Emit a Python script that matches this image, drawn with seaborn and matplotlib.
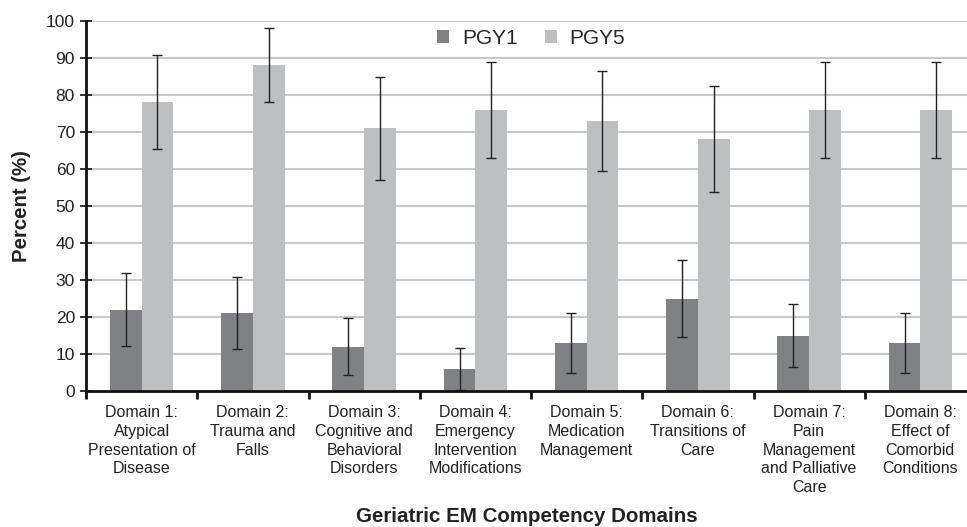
import matplotlib
matplotlib.use("Agg")
import matplotlib.pyplot as plt
import seaborn as sns
import pandas as pd
import numpy as np

domains = [
    "Domain 1:\nAtypical\nPresentation of\nDisease",
    "Domain 2:\nTrauma and\nFalls",
    "Domain 3:\nCognitive and\nBehavioral\nDisorders",
    "Domain 4:\nEmergency\nIntervention\nModifications",
    "Domain 5:\nMedication\nManagement",
    "Domain 6:\nTransitions of\nCare",
    "Domain 7:\nPain\nManagement\nand Palliative\nCare",
    "Domain 8:\nEffect of\nComorbid\nConditions",
]
groups = ["PGY1", "PGY5"]
pgy1 = [22, 21, 12, 6, 13, 25, 15, 13]
pgy1_err = [9.8, 9.7, 7.7, 5.7, 8.0, 10.3, 8.4, 8.0]
pgy5 = [78, 88, 71, 76, 73, 68, 76, 76]
pgy5_err = [12.7, 10.0, 13.9, 13.0, 13.6, 14.3, 13.0, 13.0]

df = pd.DataFrame({
    "Domain": domains * 2,
    "Group": ["PGY1"] * len(domains) + ["PGY5"] * len(domains),
    "Percent": pgy1 + pgy5,
})

sns.set_theme(style="white")
plt.rcParams["font.family"] = ["Liberation Sans", "DejaVu Sans"]

fig = plt.figure(figsize=(9.67, 5.27), dpi=100)
ax = fig.add_axes([86 / 967, 136 / 527, 890 / 967, 370 / 527])

palette = {"PGY1": "#808185", "PGY5": "#bebfc1"}
sns.barplot(data=df, x="Domain", y="Percent", hue="Group", order=domains,
            hue_order=groups, palette=palette, width=0.57, errorbar=None,
            saturation=1, ax=ax, zorder=2, linewidth=0)

errs = {"PGY1": pgy1_err, "PGY5": pgy5_err}
vals = {"PGY1": pgy1, "PGY5": pgy5}
bar_containers = list(ax.containers)
for gi, cont in enumerate(bar_containers):
    g = groups[gi]
    xs = [b.get_x() + b.get_width() / 2 for b in cont]
    ax.errorbar(xs, vals[g], yerr=errs[g], fmt="none", ecolor="#222222",
                elinewidth=1.0, capsize=3.5, capthick=1.0, zorder=3)

ax.set_ylim(0, 100)
ax.set_xlim(-0.5, 7.5)
ax.set_yticks(np.arange(0, 101, 10))
ax.yaxis.grid(True, color="#c8c8c8", linewidth=1.5, zorder=0)
ax.set_axisbelow(True)

for s in ["top", "right"]:
    ax.spines[s].set_visible(False)
for s in ["left", "bottom"]:
    ax.spines[s].set_color("#111111")
    ax.spines[s].set_linewidth(2)
    ax.spines[s].set_zorder(4)

ax.tick_params(axis="y", direction="inout", length=8, width=1.2, color="#111111",
               labelsize=12.5, labelcolor="#222222", pad=4, left=True)
ax.set_xticks(np.arange(8))
ax.set_xticklabels(domains, fontsize=11.5, color="#222222", linespacing=1.32)
ax.tick_params(axis="x", length=0, pad=10)
ax.set_xticks(np.arange(-0.5, 8.0, 1), minor=True)
ax.tick_params(axis="x", which="minor", direction="out", length=6, width=2,
               color="#111111", bottom=True)

ax.set_ylabel("")
ax.set_xlabel("")
fig.text(22 / 967, 1 - 206 / 527, "Percent (%)", ha="center", va="center",
         rotation=90, fontsize=14.7, fontweight="bold", color="#222222")
fig.text(527 / 967, 1 - 517 / 527, "Geriatric EM Competency Domains", ha="center",
         va="center", fontsize=14.8, fontweight="bold", color="#222222")

handles, labels = ax.get_legend_handles_labels()
ax.legend(handles, labels, loc="center", bbox_to_anchor=(531 / 967, 1 - 38 / 527),
          bbox_transform=fig.transFigure, ncol=2, frameon=False, fontsize=15,
          handlelength=0.6, handleheight=0.6, columnspacing=1.3, handletextpad=0.6)

fig.savefig("out.png", dpi=100)
